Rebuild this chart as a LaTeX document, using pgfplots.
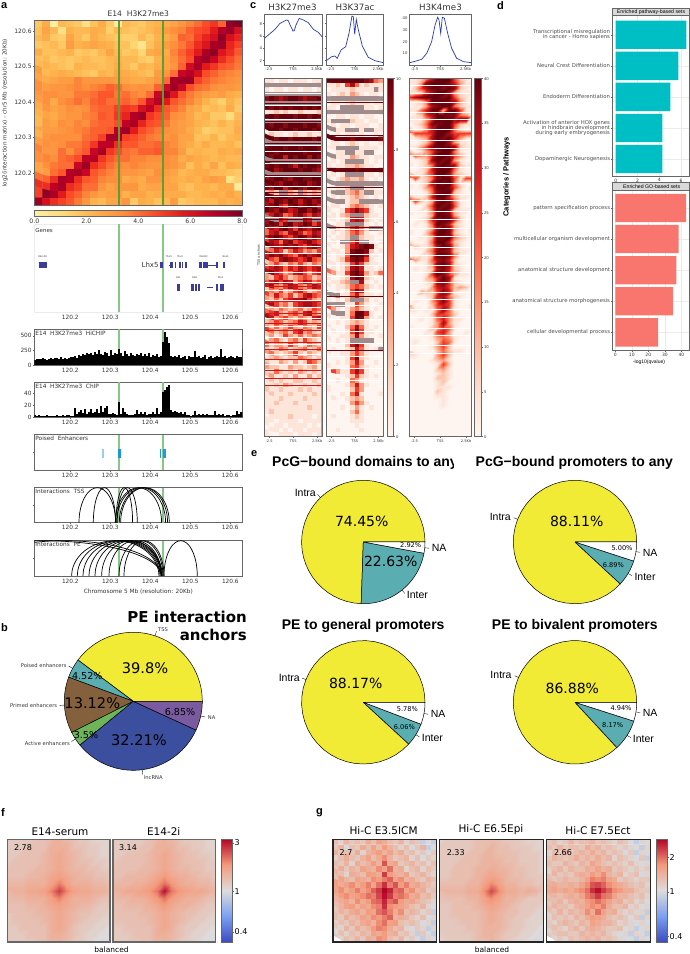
\documentclass[border=0pt]{standalone}
\usepackage{fontspec}
\usepackage{pgfplots}
\usepackage{pgfplotstable}
\pgfplotsset{compat=1.18}
\setmainfont{DejaVu Sans}
\newfontfamily\arial{Liberation Sans}
\definecolor{frame}{HTML}{666666}
\definecolor{txt}{HTML}{333333}
\definecolor{glight}{HTML}{86C986}
\definecolor{gdark}{HTML}{5F9E30}
\definecolor{genec}{HTML}{3C3C9A}
\definecolor{pyel}{HTML}{F2EB36}
\definecolor{pteal}{HTML}{5AADB0}
\definecolor{pbrown}{HTML}{85603C}
\definecolor{pgreen}{HTML}{6EB55A}
\definecolor{pblue}{HTML}{3C4E9E}
\definecolor{ppurple}{HTML}{7A5BA0}
\definecolor{bteal}{HTML}{00BFC4}
\definecolor{bred}{HTML}{F8766D}
\definecolor{lineblue}{HTML}{2B3BAF}
\definecolor{darkred}{HTML}{67000D}
\definecolor{midred}{HTML}{CB181D}
\newcommand{\fs}[1]{\fontsize{#1}{#1}\selectfont}

% numbers in a row, one table column c
\makeatletter
\newtoks\celltoks
\def\@addcell#1 {\ifx x#1\else\celltoks\expandafter{\the\celltoks#1\\}\expandafter\@addcell\fi}
\newcommand{\cells}[2]{\celltoks{c\\}\@addcell#2 x \edef\celltmp{\noexpand\pgfplotstableread[row sep=crcr]{\the\celltoks}\noexpand#1}\celltmp}
\makeatother

% placement in pixels of the reference, y from the top
\pgfplotsset{
  /pgf/number format/assume math mode=true,
  table/y index=0,
  box/.code n args={4}{%
    \pgfmathsetmacro\bxa{#1}\pgfmathsetmacro\bw{(#3)-(#1)}\pgfmathsetmacro\bh{(#4)-(#2)}\pgfmathsetmacro\byb{954-(#4)}%
    \edef\boxtmp{\noexpand\pgfplotsset{at={(\bxa pt,\byb pt)},anchor=south west,width=\bw pt,height=\bh pt}}\boxtmp},
  base/.style={scale only axis,enlargelimits=false,axis line style={draw=frame,line width=.7pt},
    tick style={draw=frame,line width=.4pt},tickwidth=1.5pt,tick align=outside,xtick pos=bottom,ytick pos=left,
    tick label style={text=txt,inner sep=1pt},scaled ticks=false},
  track/.style={base,xmin=120.11,xmax=120.63,xtick={120.2,120.3,120.4,120.5,120.6},
    xticklabels={120.2,120.3,120.4,120.5,120.6},tick label style={font=\fs{5.8}},unbounded coords=jump},
  hm/.style={base,axis on top,xmin=0,xmax=12,ymin=-80,ymax=0,xtick={1,6,11},xticklabels={-2.5,TSS,2.5Kb},ytick=\empty,
    tick label style={font=\fs{3.6}},colormap name=heatc,point meta min=0,point meta max=10},
  prof/.style={base,xmin=-2.5,xmax=2.5,xtick={-2.1,0,2.05},xticklabels={-2.5,TSS,2.5Kb},tick label style={font=\fs{3.8}},tickwidth=1pt},
  pile/.style={base,axis on top,xmin=0,xmax=1,ymin=0,ymax=1,ticks=none,axis line style={line width=1.4pt}},
  vbar/.style={base,axis on top,xmin=0,xmax=1,xtick=\empty,ytick pos=right,axis line style={draw=frame,line width=.6pt}},
  colormap={ylorrd}{rgb255(0cm)=(255,238,165);rgb255(1cm)=(254,217,118);rgb255(2cm)=(254,178,76);rgb255(3cm)=(253,141,60);rgb255(4cm)=(252,78,42);rgb255(5cm)=(227,26,28);rgb255(6cm)=(189,0,38);rgb255(7cm)=(128,0,38)},
  colormap={reds}{rgb255(0cm)=(255,245,240);rgb255(1cm)=(254,224,210);rgb255(2cm)=(252,187,161);rgb255(3cm)=(252,146,114);rgb255(4cm)=(251,106,74);rgb255(5cm)=(239,59,44);rgb255(6cm)=(203,24,29);rgb255(7cm)=(165,15,21);rgb255(8cm)=(103,0,13)},
  colormap={heatc}{rgb255(0cm)=(255,245,240);rgb255(1cm)=(254,229,217);rgb255(2cm)=(252,197,174);rgb255(3cm)=(252,156,126);rgb255(4cm)=(251,106,74);rgb255(5cm)=(239,59,44);rgb255(6cm)=(203,24,29);rgb255(7cm)=(165,15,21);rgb255(8cm)=(127,10,16);rgb255(9cm)=(103,0,13);rgb255(9.1cm)=(160,140,140);rgb255(10cm)=(160,140,140)},
  colormap={cw}{rgb255(0cm)=(59,76,192);rgb255(1cm)=(123,159,242);rgb255(2cm)=(221,220,220);rgb255(3cm)=(244,154,123);rgb255(4cm)=(180,4,38)},
}

\newcommand{\T}[5][]{\node[inner sep=0pt,text=txt,#1,font=\fs{#4}] at ({#2},{954-#3}) {#5};}
\newcommand{\greens}[2]{\addplot[glight,line width=2pt,forget plot] coordinates {(120.3225,#1)(120.3225,#2)};
  \addplot[glight,line width=2pt,forget plot] coordinates {(120.4317,#1)(120.4317,#2)};}
\newcommand{\vramp}[2]{\addplot[surf,shader=interp,mesh/cols=2,point meta=y] coordinates {(0,#1)(1,#1)(0,#2)(1,#2)};}
% thin full-width streaks of the TSS heatmaps
\newcommand{\streaks}[3]{\addplot[xcomb,#1,line width=#2] table[x expr=12,y=c] #3;}

% unit shapes: half ellipse for the loops, sector outline for the pies
\pgfplotstableread[row sep=crcr]{t h\\0 0\\.0076 .1736\\.0302 .342\\.067 .5\\.117 .643\\.1786 .766\\.25 .866\\.329 .94\\.413 .985\\.5 1\\.587 .985\\.671 .94\\.75 .866\\.8214 .766\\.883 .643\\.933 .5\\.9698 .342\\.9924 .1736\\1 0\\}\arcshape
\pgfplotstableread[row sep=crcr]{r t\\0 0\\1 0\\1 .025\\1 .05\\1 .075\\1 .1\\1 .125\\1 .15\\1 .175\\1 .2\\1 .225\\1 .25\\1 .275\\1 .3\\1 .325\\1 .35\\1 .375\\1 .4\\1 .425\\1 .45\\1 .475\\1 .5\\1 .525\\1 .55\\1 .575\\1 .6\\1 .625\\1 .65\\1 .675\\1 .7\\1 .725\\1 .75\\1 .775\\1 .8\\1 .825\\1 .85\\1 .875\\1 .9\\1 .925\\1 .95\\1 .975\\1 1\\0 1\\}\pieshape
\newcommand{\loopc}[2]{\addplot[black,line width=.7pt,smooth,forget plot] table[x expr={#1+(#2-#1)*\thisrow{t}},y=h] \arcshape;}
\newcommand{\slice}[3]{\addplot[fill=#3,draw=black,line width=.5pt,forget plot] table[x expr={\thisrow{r}*cos(3.6*(#1+(#2-#1)*\thisrow{t}))},y expr={\thisrow{r}*sin(3.6*(#1+(#2-#1)*\thisrow{t}))}] \pieshape;}
\newcommand{\lead}[1]{\draw[black,line width=.35pt] (axis cs:{cos(3.6*#1)},{sin(3.6*#1)}) -- (axis cs:{1.07*cos(3.6*#1)},{1.07*sin(3.6*#1)});}

\cells\tHiC{20 28 05 24 22 20 12 22 28 20 06 24 22 20 24 26 28 30 34 38 42 48 52 44 76 80
22 30 24 12 26 24 24 28 26 18 24 22 20 22 24 28 32 36 38 44 48 50 58 70 74 62
24 28 20 18 30 24 20 28 24 22 20 18 18 24 20 26 28 32 44 42 50 56 62 76 62 56
20 22 24 20 32 26 28 30 28 26 22 22 16 10 22 28 32 36 40 46 54 60 72 74 56 50
28 22 22 24 26 20 22 20 24 30 24 20 22 16 28 30 28 38 44 50 58 72 76 60 54 46
22 24 20 22 20 22 24 22 22 24 26 24 24 20 18 26 30 36 42 48 70 74 66 54 48 42
24 26 24 22 20 26 24 24 22 24 28 24 20 26 24 28 30 34 44 64 72 58 52 46 44 40
32 24 26 28 26 24 22 20 26 24 30 28 26 24 22 32 34 42 66 70 62 48 44 40 38 36
30 28 30 32 32 38 34 34 34 34 32 30 28 28 30 34 42 72 74 74 50 44 40 38 36 34
36 32 34 34 36 38 36 38 40 44 42 36 34 36 34 44 64 74 66 48 42 40 36 34 34 32
34 36 36 34 34 40 40 42 46 46 40 42 38 36 42 66 74 60 46 40 36 32 30 32 28 26
32 36 28 36 38 42 38 44 46 42 42 44 40 46 62 70 58 46 42 38 32 26 22 18 26 22
28 34 30 32 36 34 36 42 44 44 50 52 50 62 68 54 46 42 38 30 28 22 24 22 28 20
26 30 28 32 34 34 38 40 46 44 52 56 70 74 52 48 44 36 34 30 24 26 20 20 14 24
24 32 30 36 34 38 36 42 44 44 48 68 72 56 48 46 40 34 32 30 26 24 22 26 22 26
30 32 32 34 36 38 40 44 44 46 70 74 58 48 44 40 36 34 32 28 24 18 20 22 22 28
26 34 36 36 36 36 42 44 50 72 72 50 48 44 40 38 34 36 30 30 22 22 26 20 24 26
32 36 34 36 40 40 44 52 68 68 54 46 46 42 42 44 38 36 30 28 24 28 24 24 26 22
38 34 34 42 36 42 46 66 72 52 48 42 40 44 44 46 38 38 32 24 26 24 24 28 26 28
36 38 36 42 44 48 68 70 52 46 42 42 38 38 36 36 36 34 28 30 28 26 24 26 24 24
30 36 40 42 42 66 74 54 48 42 38 36 38 36 34 34 36 34 30 22 28 24 30 22 28 26
30 32 42 46 70 72 66 46 42 38 36 34 34 32 30 36 32 30 24 26 28 28 24 24 22 20
42 44 54 72 70 54 46 44 38 36 36 28 30 28 34 34 30 28 26 28 26 30 32 30 12 18
54 54 68 72 54 50 42 42 34 30 34 34 34 28 30 30 30 30 24 22 26 26 24 28 28 06
50 76 72 58 48 44 38 34 30 32 32 26 30 30 26 28 28 28 28 24 24 26 28 26 30 26
74 62 54 50 46 40 34 26 24 30 30 34 20 28 26 22 24 32 20 22 24 24 24 28 26 28}

\cells\tHichip{90 110 100 95 120 105 90 110 125 100
115 120 105 130 110 120 100 115 140 130
150 125 170 160 190 175 200 185 210 170
220 180 260 190 170 230 200 160 250 170
210 190 270 200 160 240 180 160 200 175
150 190 170 210 150 180 160 200 140 170
150 190 130 160 390 560 470 380 160 140
150 130 170 120 140 160 110 150 130 140
240 130 150 120 140 170 110 130 150 120
130 160 140 280 130 150 120 140 160 130
120 150 130 140 270}

\cells\tChip{3 2 3 2 2 2 3 2 2 2
2 3 2 2 3 2 3 3 2 2
16 6 8 12 7 13 6 9 13 7
8 14 7 18 8 16 19 6 5 7
5 4 26 6 16 9 6 4 3 3
5 12 6 8 5 9 4 5 6 8
6 15 5 9 42 46 50 53 12 9
10 8 7 9 6 8 3 4 2 3
11 3 6 4 5 3 5 3 3 4
10 4 6 3 5 2 3 3 2 3
4 11 5 9 8}

\cells\tCa{1 1 0 1 1 0 1 1 1 0 1 1
10 10 10 10 10 10 10 10 10 10 10 10
1 0 1 1 0 1 1 0 1 1 0 1
10 10 10 10 10 10 10 10 10 10 10 10
8 9 8 7 8 9 9 8 7 8 8 9
10 10 10 10 10 10 10 10 10 10 10 10
9 8 9 8 9 8 9 9 8 9 8 9
1 1 2 1 2 1 1 2 1 1 1 2
9 9 8 9 9 9 8 9 9 8 9 9
10 10 10 10 10 10 10 10 10 10 10 10
9 8 9 9 8 9 9 9 8 9 9 8
9 9 9 8 9 9 8 9 9 9 8 9
1 2 1 1 0 1 2 1 1 2 1 1
9 9 8 9 9 8 9 9 9 9 8 9
10 10 10 10 10 10 10 10 10 10 10 10
8 9 9 9 8 9 9 8 9 9 9 8
9 9 8 9 9 9 9 9 8 9 9 9
9 8 9 9 6 9 8 9 9 7 9 8
10 10 10 10 10 10 10 10 10 10 10 10
8 9 8 9 9 8 6 9 8 9 9 8
9 9 7 8 9 9 9 8 9 9 8 7
10 10 10 10 10 10 10 10 10 10 10 10
7 8 9 9 8 7 9 9 8 8 9 9
9 9 8 7 9 9 8 9 9 7 8 9
8 7 9 9 6 8 9 8 7 9 9 8
2 3 2 10 10 3 2 10 3 2 3 2
9 9 8 9 9 8 9 9 9 8 9 9
8 6 9 8 7 9 8 6 8 9 7 8
7 8 9 6 5 8 9 7 8 9 8 6
9 8 7 9 8 6 7 9 9 7 9 8
5 6 8 7 4 5 7 8 6 5 7 6
10 10 10 6 5 10 10 10 7 6 10 10
7 9 8 5 8 9 6 7 9 8 5 7
8 7 6 8 9 7 5 8 7 6 8 9
4 6 7 5 4 7 8 6 4 5 7 6
7 8 9 8 6 5 7 9 8 6 8 7
5 7 6 4 7 8 5 6 7 8 6 5
9 8 7 6 8 7 8 6 5 7 8 7
3 4 6 5 2 4 6 5 3 4 3 5
6 8 7 8 6 5 4 7 8 6 7 8
7 5 4 7 8 7 6 5 6 8 5 4
2 3 5 3 2 4 3 5 3 2 4 3
5 6 7 6 4 6 5 7 6 5 6 7
7 8 6 5 3 4 6 7 5 3 5 6
3 2 5 6 4 2 3 4 5 4 2 3
4 6 7 5 7 6 3 5 7 6 4 5
6 7 4 3 5 7 6 4 3 5 7 6
2 4 3 5 2 3 5 6 4 2 3 4
5 3 6 4 3 5 2 4 6 7 5 4
3 2 4 2 5 6 7 7 8 5 3 2
6 7 5 3 4 2 5 6 7 7 6 5
2 3 2 4 3 2 3 4 2 3 5 4
4 5 6 3 2 4 5 3 6 7 4 2
7 6 3 4 5 3 2 4 3 2 6 7
2 3 5 4 2 3 4 6 5 2 3 2
3 2 4 2 3 5 3 2 4 3 2 5
5 4 2 3 4 2 5 6 3 4 2 1
2 3 1 2 5 3 2 4 2 3 4 3
1 3 4 2 1 3 4 2 5 3 2 1
4 2 3 3 2 5 3 1 2 4 3 2
2 1 2 4 3 1 2 3 4 1 2 4
3 4 2 1 2 3 5 2 1 3 2 1
1 2 3 2 1 2 2 4 3 2 1 2
2 1 1 3 2 1 3 1 2 5 4 2
3 2 2 1 1 3 2 2 1 2 3 1
1 1 4 2 1 2 1 3 2 1 2 1
2 3 1 1 2 1 3 1 1 3 1 2
1 2 1 2 1 1 2 2 1 1 2 1
1 1 2 1 3 2 1 1 2 1 1 2
2 1 1 2 1 1 1 2 1 2 1 1
1 2 1 1 1 2 1 1 1 1 2 1
1 1 1 2 1 1 1 1 2 1 1 1
1 1 2 1 1 1 2 1 1 1 1 1
1 1 1 1 1 1 1 1 1 2 1 1
1 2 1 1 1 1 1 1 1 1 1 1
0 1 1 1 1 2 1 1 1 1 0 1
1 1 0 1 1 1 1 0 1 1 1 1
1 0 1 1 0 1 1 1 1 0 1 0
0 1 1 0 1 0 1 1 0 1 1 1
1 0 0 1 1 1 0 1 1 1 0 1}

\cells\tCb{9 9 9 9 9 9 9 9 8 7 4 3
1 1 2 1 5 7 4 1 2 1 1 1
0 1 1 1 1 2 1 1 1 1 10 1
1 0 1 2 1 3 2 1 0 1 1 0
10 10 10 10 10 10 10 10 10 10 10 10
0 1 1 0 1 2 1 1 1 0 1 1
1 1 0 10 10 10 10 10 1 1 0 1
10 10 10 10 10 10 10 10 10 10 10 10
0 0 1 1 0 1 1 0 1 1 0 0
1 10 10 10 10 2 1 1 0 1 1 0
0 1 0 1 1 0 1 1 1 0 0 1
10 10 1 1 10 10 10 1 10 10 1 1
0 0 1 0 1 1 0 1 0 0 1 0
9 9 9 9 9 8 9 9 9 9 9 8
0 1 1 0 1 2 1 0 1 0 0 1
1 1 10 10 10 10 10 1 1 1 1 0
0 0 1 1 10 10 1 1 10 10 0 0
10 10 1 1 1 3 2 1 1 0 1 1
0 1 0 1 10 10 10 10 1 0 1 0
1 0 1 1 2 2 3 2 1 1 0 0
9 9 8 9 9 9 8 9 9 9 9 9
0 1 0 1 10 10 10 10 1 1 0 1
1 0 1 2 3 2 2 3 1 0 1 0
10 10 10 10 10 10 10 10 10 10 10 10
0 0 1 1 2 10 10 10 1 1 0 0
1 10 10 10 2 3 4 2 10 10 1 1
0 1 0 1 1 2 3 2 1 0 1 0
10 10 10 10 1 2 2 10 10 10 10 10
0 1 1 0 1 3 4 3 2 1 0 1
1 0 0 1 5 6 8 6 5 1 0 0
0 1 0 2 3 10 10 10 2 1 1 0
1 1 0 1 2 6 7 6 2 1 0 1
0 0 1 1 10 10 10 10 1 0 1 0
10 10 2 1 3 5 6 4 2 10 10 10
0 1 0 1 2 4 5 3 1 0 0 1
1 0 1 1 2 10 10 2 1 1 0 0
0 1 0 10 10 5 7 10 10 1 0 1
1 0 0 1 3 6 7 8 9 8 1 0
0 1 1 0 3 8 9 9 8 2 0 1
1 0 1 1 4 9 9 9 7 1 1 0
0 0 1 2 5 8 9 8 5 1 0 0
1 1 0 1 2 5 7 5 2 1 1 0
0 1 0 1 3 7 8 6 1 1 0 1
4 3 1 1 5 8 9 7 3 1 2 4
1 0 0 1 2 7 9 8 2 1 0 0
0 1 1 2 3 10 10 7 1 0 1 0
1 0 1 1 2 4 5 4 2 1 0 1
0 0 1 0 1 5 8 6 1 0 0 0
10 10 10 1 1 4 6 3 1 1 0 1
1 0 1 0 2 10 10 10 2 0 1 0
10 10 10 10 1 1 5 3 1 0 0 1
5 3 1 0 1 3 4 2 1 0 1 0
0 10 10 10 1 4 9 9 6 1 0 0
1 0 0 1 1 5 9 8 3 1 0 1
0 0 1 0 1 2 3 2 1 0 0 0
1 0 0 0 2 4 7 4 1 0 1 0
0 1 0 0 1 5 8 5 1 1 0 0
0 0 0 1 1 3 7 3 1 0 0 1
1 0 1 0 1 10 10 10 10 10 0 0
0 0 0 0 2 6 8 5 1 0 0 0
0 1 0 0 1 2 6 4 1 0 1 10
1 0 0 1 1 3 5 3 1 0 0 0
0 0 0 0 1 5 8 2 1 0 0 0
0 0 1 0 1 3 6 3 0 0 1 0
1 0 0 0 0 4 5 2 1 0 0 0
0 5 3 1 1 5 7 5 1 0 0 0
0 0 0 0 1 2 5 2 1 0 1 0
0 0 1 0 0 4 3 1 0 0 0 0
0 0 0 0 1 3 6 3 1 0 0 0
1 0 0 0 0 2 5 3 0 0 0 0
0 0 0 1 0 4 6 1 0 0 0 1
0 1 0 0 1 2 3 2 0 0 0 0
0 0 0 0 0 3 5 3 1 0 0 0
0 0 0 1 0 1 3 1 0 1 0 0
0 0 0 0 0 2 4 1 0 0 0 0
0 1 0 0 0 1 2 1 0 0 0 0
0 0 0 0 0 1 1 1 0 0 0 0
0 0 0 0 0 0 1 0 0 0 0 0
0 0 1 0 0 0 0 1 0 0 0 0
0 0 0 0 0 0 0 0 0 0 0 0}

\cells\tCc{1 1 2 4 7 9 9 9 5 2 1 0
1 1 3 8 9 9 9 8 6 3 1 1
0 2 5 7 9 9 8 9 8 2 1 0
1 1 2 5 7 9 9 7 3 1 1 1
5 7 8 9 9 9 8 9 5 2 1 0
1 1 2 4 9 9 9 8 7 3 1 0
0 1 1 3 7 8 9 9 4 2 1 1
1 1 4 6 9 9 2 9 9 5 1 0
0 1 2 5 7 9 9 8 8 4 3 1
1 1 1 3 6 9 9 9 7 8 8 0
0 1 2 4 8 8 9 9 5 2 1 1
0 0 1 3 6 9 9 9 4 1 0 0
5 5 5 5 6 9 9 7 5 5 5 5
1 1 2 3 7 9 8 9 6 3 1 0
0 0 1 2 5 9 9 7 3 1 1 0
1 1 3 5 8 9 9 9 8 2 1 1
0 0 1 3 5 8 9 9 4 1 0 0
5 4 3 3 6 9 9 8 5 3 1 0
0 0 1 2 7 9 8 9 3 1 0 0
1 0 1 2 4 8 9 8 7 2 1 1
0 0 1 2 6 9 9 9 4 1 0 0
0 1 1 3 5 9 9 7 3 2 1 0
5 5 1 2 4 8 9 9 5 1 5 5
0 0 1 2 7 9 8 9 4 1 0 0
1 0 1 3 5 9 9 8 5 2 0 1
0 0 0 1 4 8 9 9 2 1 0 0
0 1 1 2 6 9 9 6 3 1 1 0
6 5 2 1 3 8 9 8 4 1 0 0
0 0 0 2 5 9 8 9 5 1 0 0
0 0 1 1 4 8 9 7 2 1 1 0
1 0 0 1 3 9 9 8 3 1 0 0
0 0 1 2 6 8 9 9 6 2 0 0
0 1 0 1 4 9 8 6 2 1 0 0
0 0 0 1 3 7 9 8 3 1 0 1
1 0 0 2 5 9 9 8 2 1 0 0
0 0 1 1 3 8 8 9 4 2 1 0
0 0 0 1 4 9 9 6 2 1 0 0
3 2 1 1 3 7 9 8 3 1 0 0
0 0 0 2 4 8 8 7 2 1 1 0
0 0 1 1 3 9 9 8 4 1 0 0
5 3 1 1 4 7 8 6 2 0 0 0
0 0 0 1 3 8 9 7 2 1 0 0
0 1 0 1 2 7 8 6 2 1 0 0
0 0 0 1 5 9 8 5 3 1 1 0
0 0 0 2 3 6 9 7 1 0 0 0
1 0 0 1 2 7 8 5 2 1 0 0
0 0 0 0 3 6 7 5 2 3 2 0
0 0 3 2 2 5 8 6 1 0 0 0
0 0 0 1 2 6 7 4 2 1 0 0
0 1 0 0 3 5 8 5 1 0 0 0
0 0 0 0 2 5 6 5 1 0 0 1
3 1 0 1 1 4 7 4 1 0 0 0
0 0 0 0 2 5 5 4 2 0 0 0
0 0 1 0 1 4 6 3 1 1 0 0
0 0 0 0 1 3 7 3 1 0 0 0
1 0 0 0 2 3 5 4 1 0 0 0
0 0 0 1 1 5 6 3 0 0 1 0
0 0 0 0 1 3 4 3 1 0 0 0
0 1 0 0 0 2 5 4 1 0 0 0
0 0 0 0 1 3 5 2 0 0 0 0
0 0 0 0 0 2 4 2 1 1 0 0
2 1 0 0 0 3 5 2 0 0 0 0
0 0 0 0 1 2 3 1 0 0 0 0
0 0 0 0 0 1 5 2 0 0 0 0
0 0 0 0 0 2 3 1 0 0 0 0
0 0 0 0 0 1 2 1 0 0 0 0
0 0 0 0 0 2 2 1 0 0 0 0
0 0 0 0 0 1 2 0 0 0 0 0
0 0 0 0 0 1 1 1 0 0 0 0
0 0 0 0 0 2 1 0 0 0 0 0
0 0 0 0 0 1 1 0 0 0 0 0
0 0 0 0 0 0 1 0 0 0 0 0
0 0 0 0 0 0 1 0 0 0 0 0
0 0 0 0 0 0 0 0 0 0 0 0
0 0 0 0 0 0 0 0 0 0 0 0
0 0 0 0 0 0 0 0 0 0 0 0
0 0 0 0 0 0 0 0 0 0 0 0
0 0 0 0 0 0 0 0 0 0 0 0
0 0 0 0 0 0 0 0 0 0 0 0
0 0 0 0 0 0 0 0 0 0 0 0}

\cells\sAw{-3.2 -5.9 -9.1 -11.7 -14.9 -16.2 -18.9 -21.9 -24.1 -26.3 -28.6 -30.9 -33.2 -35.7 -37.4 -39.1 -41.8 -43.3 -45.6 -47.2 -49.5 -51.1 -53.6 -55.4 -57.8 -59.3 -61.6 -63.9}
\cells\sAd{-5.5 -9.5 -14.5 -18.5 -21.5 -31.5 -25.5}
\cells\sAr{-46.3 -49.8 -52.4 -54.7 -56.2 -58.9 -60.4 -62.8 -65.1 -66.9 -68.4}
\cells\sBw{-31.2 -33.6 -36.4 -39.3 -41.7 -44.2 -47.5 -50.6 -53.8 -56.4 -59.2 -62.1 -64.7 -67.3}
\cells\sBd{-5.2 -12.6 -20.4 -24.3 -33.1 -48.7 -60.6}
\cells\sCw{-1.4 -3.3 -5.2 -7.6 -9.1 -11.3 -13.8 -15.6 -17.2 -19.7 -21.5 -23.4 -25.8 -27.1 -29.6 -31.3 -33.5 -35.2 -37.7 -39.4 -41.6 -43.2 -45.5 -47.8 -49.3 -51.6 -53.2 -55.7 -57.4 -59.6 -61.3}

\cells\tFa{12 12 12 12 13 13 14 15 14 13 12 12 11 11 11
12 12 12 13 13 13 15 15 15 13 13 12 12 11 11
12 12 13 13 13 14 15 16 15 14 13 12 12 11 11
12 13 13 13 13 14 15 16 15 14 13 13 12 12 11
13 13 13 13 14 14 15 16 15 14 14 13 13 12 12
13 13 13 14 14 15 16 17 16 15 14 14 13 13 12
14 14 14 15 15 15 17 20 17 15 15 15 14 14 13
15 15 15 16 16 17 20 26 20 17 16 16 15 15 14
14 14 14 15 15 15 17 20 17 15 15 15 14 13 13
13 13 13 14 14 15 16 17 16 15 14 14 13 12 12
13 13 13 13 14 14 15 16 15 14 13 13 12 12 11
12 13 13 13 13 14 15 16 15 14 13 12 12 11 11
12 12 13 13 13 13 15 16 15 13 12 12 11 11 10
12 12 12 13 13 13 15 15 14 13 12 11 11 10 10
12 12 12 12 13 13 14 15 14 12 12 11 10 10 10}

\cells\tFb{12 12 12 12 12 13 14 15 14 13 12 12 12 11 11
12 12 12 12 13 13 15 15 15 13 13 12 12 11 11
12 12 13 13 13 14 15 16 15 14 13 13 12 12 11
12 13 13 13 13 14 15 16 15 14 13 13 13 12 12
13 13 13 13 14 14 15 16 15 14 14 13 13 12 12
13 13 14 14 14 15 16 18 16 15 15 14 13 13 12
14 14 14 15 15 16 18 21 18 16 15 15 14 14 13
15 15 16 16 17 18 21 31 21 18 17 16 16 15 14
14 14 14 15 15 16 18 21 18 16 15 15 14 13 13
13 13 14 14 14 15 16 18 16 15 15 14 13 12 12
13 13 13 13 14 14 15 16 15 14 13 13 12 12 11
13 13 13 13 13 14 15 16 15 14 13 12 12 11 11
12 12 13 13 13 13 15 16 15 13 12 12 11 11 10
12 12 12 13 13 13 15 15 14 13 12 11 11 10 10
12 12 12 12 13 13 14 15 14 12 12 11 10 10 10}

\cells\tGb{11 12 12 12 12 13 13 13 13 12 12 12 11 11 11
12 12 12 12 12 13 13 14 13 13 12 12 12 11 11
12 12 12 12 13 13 14 14 13 13 13 12 12 12 11
12 12 12 13 13 13 14 14 14 13 13 12 12 12 11
12 12 13 13 13 14 14 15 14 14 13 13 12 12 11
12 12 13 13 13 14 15 16 15 14 13 13 12 12 12
13 13 13 13 14 14 16 18 16 14 14 13 13 12 12
14 14 14 14 15 15 18 23 18 15 15 14 15 14 12
13 13 13 13 14 14 16 18 16 14 14 13 12 12 12
12 12 13 13 13 14 15 16 15 14 13 12 12 12 11
12 12 13 13 13 13 14 15 14 13 13 12 12 11 11
12 12 12 13 13 13 14 15 14 13 12 12 11 11 11
12 12 12 12 13 13 14 14 14 13 12 12 11 11 10
12 12 12 12 12 13 14 14 13 12 12 11 11 10 10
11 12 12 12 12 13 13 14 13 12 11 11 10 10 10}

\cells\tGa{13 11 14 12 13 12 15 13 16 15 13 12 14 11 13 12 9 10 9
12 14 10 13 12 15 13 16 13 17 14 13 11 13 10 12 14 9 10
14 12 13 12 15 11 14 15 17 14 16 13 15 12 13 11 12 10 12
11 13 15 13 12 14 16 13 15 18 14 12 13 14 11 13 10 12 11
13 12 14 11 15 13 14 17 14 22 15 16 12 13 14 12 13 11 13
12 15 12 14 13 16 15 14 18 16 20 14 15 11 13 14 11 13 12
14 13 11 15 14 13 17 16 15 24 17 15 14 16 12 13 14 12 11
13 16 14 13 16 15 14 18 17 19 21 16 18 14 15 13 12 14 13
17 15 16 18 15 17 19 16 20 25 19 22 17 19 15 16 14 13 12
16 18 15 17 19 16 18 21 24 29 26 20 21 16 18 14 15 12 13
15 17 18 16 17 18 20 19 23 28 24 19 20 18 15 16 13 14 12
14 15 16 14 18 15 17 20 21 26 20 22 17 15 16 14 13 12 11
13 14 16 17 14 16 15 18 19 25 18 17 16 15 13 12 14 11 10
12 14 13 15 16 14 17 16 20 22 19 15 18 13 14 13 11 12 9
13 12 15 13 14 16 15 18 17 19 21 14 15 14 12 11 13 10 11
11 13 12 14 13 15 16 14 18 20 16 17 13 12 13 12 10 11 9
12 11 14 12 15 13 14 17 19 18 15 13 14 11 10 12 11 9 11
10 13 11 13 12 14 13 16 15 17 14 15 12 13 11 9 12 10 9
12 11 13 12 14 12 15 14 18 17 13 12 14 11 12 10 9 11 10}

\cells\tGc{12 13 11 12 14 12 13 13 14 12 13 12 11 13 12 10 9 11 10
13 12 14 12 13 13 12 15 13 14 12 13 12 11 12 11 10 9 11
11 13 12 14 12 13 14 13 15 13 14 12 13 12 10 12 9 11 10
12 14 13 12 13 15 13 14 13 15 13 14 11 13 12 11 10 12 9
13 12 12 14 13 12 14 13 16 14 13 12 13 12 11 13 11 10 11
12 13 14 12 14 13 13 15 14 16 14 15 12 13 12 11 12 11 12
11 14 12 13 12 14 15 14 17 15 18 14 13 14 11 12 13 10 11
13 12 13 14 13 13 14 16 19 18 19 16 15 12 13 12 11 12 12
14 15 14 14 15 14 16 18 22 23 21 18 16 15 14 13 12 13 11
15 16 15 16 15 17 18 20 25 28 24 21 18 17 15 15 13 12 12
14 14 13 14 15 14 16 19 21 24 20 19 16 14 14 13 12 13 11
13 13 14 12 14 15 14 17 18 20 18 16 14 15 12 13 11 12 10
12 14 13 13 12 14 15 16 18 17 19 15 13 13 14 11 12 10 11
13 12 14 12 14 13 14 18 15 20 16 14 15 12 11 12 11 11 9
11 13 12 13 12 14 13 15 17 16 15 13 12 13 12 10 12 9 11
12 11 13 14 13 12 14 13 16 15 14 14 13 11 12 11 10 11 10
12 13 12 11 13 14 12 14 15 14 13 12 12 13 10 11 9 10 11
11 12 13 13 12 12 14 13 14 13 14 12 11 10 11 9 11 10 9
12 11 12 11 13 12 13 14 13 14 12 13 12 11 10 10 9 11 10}

\begin{document}
\begin{tikzpicture}[x=1pt,y=1pt]
\path[use as bounding box] (0,0) rectangle (690,954);

% panel letters
\T[anchor=west,text=black]{1}{5.5}{11}{\arial\bfseries a}
\T[anchor=west,text=black]{1}{627.5}{11}{\arial\bfseries b}
\T[anchor=west,text=black]{250}{5.5}{11}{\arial\bfseries c}
\T[anchor=west,text=black]{497}{5.5}{11}{\arial\bfseries d}
\T[anchor=west,text=black]{251}{454}{11}{\arial\bfseries e}
\T[anchor=west,text=black]{1}{812.5}{11}{\arial\bfseries f}
\T[anchor=west,text=black]{316}{813}{11}{\arial\bfseries g}

% --- a: contact map and tracks
\begin{axis}[base,axis on top,box={34.3}{20.3}{242.3}{205},xmin=120.11,xmax=120.63,ymin=120.11,ymax=120.63,
  xtick={120.2,120.3,120.4,120.5,120.6},xticklabels={},ytick={120.2,120.3,120.4,120.5,120.6},
  yticklabels={120.2,120.3,120.4,120.5,120.6},tick label style={font=\fs{6}},
  colormap name=ylorrd,point meta min=0,point meta max=8]
\addplot[matrix plot*,mesh/cols=26,point meta={-.5+1.07*\thisrow{c}/10}] table[x expr={120.12+0.02*mod(\coordindex,26)},y expr={120.62-0.02*floor(\coordindex/26)}] \tHiC;
\addplot[gdark,line width=1.8pt] coordinates {(120.3225,120.11)(120.3225,120.63)};
\addplot[gdark,line width=1.8pt] coordinates {(120.4317,120.11)(120.4317,120.63)};
\end{axis}
\T{138.3}{13.3}{7.6}{E14\ \ H3K27me3}
\T[rotate=90]{5}{113}{5.6}{log2(interaction matrix) - chr5 Mb (resolution: 20Kb)}
\begin{axis}[base,axis on top,box={34.3}{210}{242.3}{216},xmin=0,xmax=8,ymin=0,ymax=1,ytick=\empty,xtick={0,2,4,6,8},xticklabels={0.0,2.0,4.0,6.0,8.0},
  tick label style={font=\fs{6.2}},axis line style={line width=.4pt},colormap name=ylorrd,point meta min=0,point meta max=8]
\addplot[surf,shader=interp,mesh/cols=2,point meta=x] coordinates {(0,0)(0,1)(8,0)(8,1)};
\end{axis}

\begin{axis}[track,box={34.3}{224}{242.3}{312},ymin=224,ymax=312,y dir=reverse,ytick=\empty,axis line style={draw=black!8,line width=.4pt}]
\greens{224}{312}
\addplot[frame,line width=.8pt] coordinates {(120.11,312)(120.63,312)};
\addplot[genec,line width=.5pt] coordinates {(120.4458,265)(120.4558,265)(120.4558,nan)(120.5358,265)(120.5642,265)(120.5642,nan)(120.5408,287.3)(120.5558,287.3)};
\addplot[genec,line width=6.5pt] coordinates {(120.1208,265)(120.1408,265)(120.1408,nan)(120.4233,265)(120.4317,265)(120.4317,nan)(120.4483,265)(120.4567,265)(120.4567,nan)(120.4625,265)(120.4650,265)(120.4650,nan)(120.4717,265)(120.4767,265)(120.4767,nan)(120.4800,265)(120.4825,265)(120.4825,nan)(120.4867,265)(120.4908,265)(120.4908,nan)(120.5208,265)(120.5300,265)(120.5300,nan)(120.5325,265)(120.5442,265)(120.5442,nan)(120.5642,265)(120.5692,265)(120.5692,nan)(120.5808,265)(120.5875,265)};
\addplot[genec,line width=6.5pt] coordinates {(120.4667,287.3)(120.4742,287.3)(120.4742,nan)(120.5017,287.3)(120.5100,287.3)(120.5100,nan)(120.5117,287.3)(120.5167,287.3)(120.5167,nan)(120.5183,287.3)(120.5250,287.3)(120.5250,nan)(120.5642,287.3)(120.5683,287.3)(120.5683,nan)(120.5742,287.3)(120.5842,287.3)};
\node[anchor=north west,inner sep=.5pt,font=\fs{5.5},text=txt] at (rel axis cs:0.002,0.96) {Genes};
\node[anchor=east,inner sep=0pt,font=\fs{7},text=txt] at (axis cs:120.4212,265) {Lhx5};
\foreach \mx/\my/\nm in {120.1308/256.7/Rbm19,120.4467/256.7/Tbx5,120.4742/256.7/Tbx3,120.5333/256.7/Med13,120.5883/256.7/Nos1,120.4700/277.3/Sds,120.5108/277.3/Sdsl,120.5758/277.3/Dtx1}{
  \edef\gtmp{\noexpand\node[inner sep=0pt,font=\noexpand\fs{2.4},text=txt] at (axis cs:\mx,\my) {\nm};}\gtmp}
\end{axis}

\begin{axis}[track,box={34.3}{329.3}{242.3}{365},ymin=0,ymax=610,ytick={0,250,500},yticklabels={0,250,500}]
\greens{0}{610}
\addplot[ycomb,black,line width=2pt] table[x expr={120.1125+0.005*\coordindex},y=c] \tHichip;
\node[anchor=north west,inner sep=.5pt,font=\fs{5.8},text=txt] at (rel axis cs:0.002,0.98) {E14\ \ H3K27me3\ \ HiCHIP};
\end{axis}

\begin{axis}[track,box={34.3}{382.3}{242.3}{417.3},ymin=0,ymax=58,ytick={0,20,40},yticklabels={0,20,40}]
\greens{0}{58}
\addplot[ycomb,black,line width=2pt] table[x expr={120.1125+0.005*\coordindex},y=c] \tChip;
\node[anchor=north west,inner sep=.5pt,font=\fs{5.8},text=txt] at (rel axis cs:0.002,0.98) {E14\ \ H3K27me3\ \ ChIP};
\end{axis}

\begin{axis}[track,box={34.3}{434.7}{242.3}{470.3},ymin=0,ymax=1,ytick={.5},yticklabels={}]
\greens{0}{1}
\addplot[color={rgb,255:red,150;green,205;blue,240},line width=1.4pt] coordinates {(120.2817,.345)(120.2817,.6)};
\addplot[color={rgb,255:red,30;green,150;blue,210},line width=3pt] coordinates {(120.3242,.345)(120.3242,.6)};
\addplot[color={rgb,255:red,33;green,150;blue,243},line width=1.4pt] coordinates {(120.425,.345)(120.425,.6)};
\addplot[color={rgb,255:red,33;green,150;blue,243},line width=2.4pt] coordinates {(120.435,.345)(120.435,.6)};
\node[anchor=north west,inner sep=.5pt,font=\fs{5.8},text=txt] at (rel axis cs:0.002,0.98) {Poised\ \ Enhancers};
\end{axis}

\begin{axis}[track,box={34.3}{487.7}{242.3}{522.7},ymin=0,ymax=1,ytick={.5},yticklabels={}]
\greens{0}{1}
\loopc{120.2217}{120.3133}\loopc{120.2575}{120.3133}\loopc{120.3142}{120.3558}\loopc{120.3175}{120.3675}
\loopc{120.3125}{120.4283}\loopc{120.3158}{120.4383}\loopc{120.3225}{120.4433}\loopc{120.3258}{120.4475}
\node[anchor=north west,inner sep=.5pt,font=\fs{5.8},text=txt] at (rel axis cs:0.002,0.98) {Interactions\ \ TSS};
\end{axis}

\begin{axis}[track,box={34.3}{540.7}{242.3}{576},ymin=0,ymax=1,ytick={.5},yticklabels={}]
\greens{0}{1}
\loopc{119.83}{120.4283}\loopc{119.94}{120.4283}
\loopc{120.2033}{120.4217}\loopc{120.2175}{120.4242}\loopc{120.2317}{120.4267}\loopc{120.2467}{120.4283}
\loopc{120.2617}{120.4300}\loopc{120.2783}{120.4267}\loopc{120.2967}{120.4283}\loopc{120.3217}{120.4317}\loopc{120.3342}{120.4342}
\loopc{120.4342}{120.5175}
\node[anchor=north west,inner sep=.5pt,font=\fs{5.8},text=txt] at (rel axis cs:0.002,0.98) {Interactions\ \ PE};
\end{axis}
\T{138.3}{591.7}{5.8}{Chromosome 5 Mb (resolution: 20Kb)}

% --- b: pie
\begin{axis}[hide axis,scale only axis,box={64.3}{632.3}{202.3}{770.3},xmin=-1,xmax=1,ymin=-1,ymax=1,clip=false]
\slice{0}{39.8}{pyel}\slice{39.8}{44.32}{pteal}\slice{44.32}{57.44}{pbrown}\slice{57.44}{60.94}{pgreen}\slice{60.94}{93.15}{pblue}\slice{93.15}{100}{ppurple}
\lead{19.9}\lead{42.06}\lead{50.88}\lead{59.19}\lead{77.05}\lead{96.58}
\end{axis}
\T[anchor=east,align=right,text=black]{247}{616.7}{15}{\bfseries PE interaction}
\T[anchor=east,align=right,text=black]{247}{635}{15}{\bfseries anchors}
\T{163}{630}{5.2}{TSS}
\T[anchor=east]{66.7}{665.7}{5.2}{Poised enhancers}
\T[anchor=east]{57.3}{706}{5.2}{Primed enhancers}
\T[anchor=east]{70}{743.3}{5.2}{Active enhancers}
\T{153.3}{777.3}{5.2}{lncRNA}
\T{211.7}{717.7}{5.2}{NA}
\T[text=black]{145}{668.3}{14.6}{39.8\%}
\T[text=black]{139}{740}{14.6}{32.21\%}
\T[text=black]{92.3}{702.7}{14.6}{13.12\%}
\T[text=black]{87.3}{675.7}{9.6}{4.52\%}
\T[text=black]{86}{735}{9.6}{3.5\%}
\T[text=black]{180}{712.3}{9.6}{6.85\%}

% --- c: profiles
\begin{axis}[prof,box={264.3}{14}{322}{65.7},ymin=1.19,ymax=9.57,ytick={2,4,6,8},yticklabels={2,4,6,8}]
\addplot[lineblue,line width=.7pt] coordinates {(-2.5,5.62)(-2.15,6.16)(-1.58,7.08)(-1.14,8.05)(-.56,8.6)(-.42,8.49)(-.27,7.8)(-.01,6.8)(.1,6.86)(.25,7.8)(.53,8.86)(.88,8.6)(1.32,8.16)(1.75,7.08)(2.18,6.6)(2.5,5.9)};
\end{axis}
\begin{axis}[prof,box={326.3}{14}{383.3}{65.7},ymin=1.19,ymax=9.57,ytick={2,4,6,8},yticklabels={}]
\addplot[lineblue,line width=.7pt] coordinates {(-2.5,2)(-2.03,2.65)(-1.74,2.76)(-1.54,2.38)(-1.21,3.73)(-.8,4.27)(-.51,6.43)(-.25,9.24)(-.13,9.14)(-.01,6.27)(.13,8.7)(.31,7)(.66,4.38)(1.18,2.54)(1.77,2)(2.5,1.68)};
\end{axis}
\begin{axis}[prof,box={409.7}{14.3}{471}{65.7},ymin=-.6,ymax=43.4,ytick={10,20,30,40},yticklabels={10,20,30,40}]
\addplot[lineblue,line width=.7pt] coordinates {(-2.5,2)(-2.07,3.1)(-1.52,4.9)(-1.11,10)(-.71,20)(-.43,34.3)(-.22,40.9)(-.11,38.6)(.03,27)(.16,40.9)(.33,40)(.6,27)(.92,14.3)(1.33,5.7)(1.88,2.9)(2.5,2)};
\end{axis}
\T{292.5}{7.5}{8.7}{H3K27me3}
\T{355}{7.5}{8.7}{H3K37ac}
\T{440.5}{7.5}{8.7}{H3K4me3}

% --- c: heatmaps
\begin{axis}[hm,box={264.3}{78.7}{322}{436.7}]
\addplot[matrix plot*,mesh/cols=12,point meta=\thisrow{c}] table[x expr={mod(\coordindex,12)+.5},y expr={-floor(\coordindex/12)-.5}] \tCa;
\streaks{darkred}{.8pt}{\sAd}
\streaks{white}{.6pt}{\sAw}
\streaks{midred}{.5pt}{\sAr}
\addplot[black!35,line width=1.4pt] coordinates {(12,0)(12,-80)};
\end{axis}
\begin{axis}[hm,box={326.3}{78.7}{383.3}{436.7}]
\addplot[matrix plot*,mesh/cols=12,point meta=\thisrow{c}] table[x expr={mod(\coordindex,12)+.5},y expr={-floor(\coordindex/12)-.5}] \tCb;
\streaks{darkred}{.4pt}{\sBd}
\streaks{white}{.6pt}{\sBw}
\end{axis}
\begin{axis}[hm,box={409.3}{78.7}{471.3}{436.7}]
\addplot[surf,shader=interp,mesh/cols=12,point meta=\thisrow{c}] table[x expr={mod(\coordindex,12)/11*12},y expr={-floor(\coordindex/12)/79*80}] \tCc;
\streaks{white}{.5pt}{\sCw}
\end{axis}
\T[rotate=90]{258.5}{255}{3.4}{TSS anchors}
\begin{axis}[vbar,box={387.3}{78.7}{393.3}{436.7},ymin=0,ymax=10,ytick={0,2,4,6,8,10},yticklabels={0,2,4,6,8,10},tick label style={font=\fs{3.8}},
  colormap name=reds,point meta min=0,point meta max=10]
\vramp{0}{10}
\end{axis}
\begin{axis}[vbar,box={474.7}{78.7}{481.3}{436.7},ymin=0,ymax=40,ytick={0,5,10,15,20,25,30,35,40},yticklabels={0,5,10,15,20,25,30,35,40},tick label style={font=\fs{3.8}},
  colormap name=reds,point meta min=0,point meta max=40]
\vramp{0}{40}
\end{axis}

% --- d: enrichment bars
\begin{axis}[base,box={612.7}{15.3}{689.3}{176},xmin=-.275,xmax=6.75,ymin=.37,ymax=5.55,y dir=reverse,
  xtick={0,2,4,6},xticklabels={0,2,4,6},ytick={1,2,3,4,5},grid=major,grid style={draw=black!8,line width=.3pt},
  yticklabels={{Transcriptional misregulation\\in cancer - Homo sapiens},{Neural Crest Differentiation},{Endoderm Differentiation},{Activation of anterior HOX genes\\in hindbrain development\\during early embryogenesis},{Dopaminergic Neurogenesis}},
  x tick label style={font=\fs{4.5}},y tick label style={font=\fs{5.3},align=right,text=black!70}]
\addplot[xbar,bar width=28.3pt,fill=bteal,draw=none] coordinates {(6.48,1)(5.75,2)(5.02,3)(4.28,4)(4.28,5)};
\end{axis}
\begin{axis}[base,box={612.7}{190.3}{689.3}{350.7},xmin=-1.6,xmax=44.8,ymin=.43,ymax=5.59,y dir=reverse,
  xtick={0,10,20,30,40},xticklabels={0,10,20,30,40},ytick={1,2,3,4,5},grid=major,grid style={draw=black!8,line width=.3pt},
  yticklabels={pattern specification process,multicellular organism development,anatomical structure development,anatomical structure morphogenesis,cellular developmental process},
  x tick label style={font=\fs{4.5}},y tick label style={font=\fs{5.3},align=right,text=black!70}]
\addplot[xbar,bar width=28.3pt,fill=bred,draw=none] coordinates {(42.8,1)(38.4,2)(37,3)(35,4)(25.9,5)};
\end{axis}
\draw[frame,fill=black!15,line width=.7pt] (612.7,{954-8}) rectangle (689.3,{954-15.3});
\draw[frame,fill=black!15,line width=.7pt] (612.7,{954-182.3}) rectangle (689.3,{954-190.3});
\T[text=black]{651}{11.7}{5.2}{\arial Enriched pathway-based sets}
\T[text=black]{651.7}{186.3}{5.2}{\arial Enriched GO-based sets}
\T[text=black]{649}{362}{5}{\arial -log10(qvalue)}
\T[rotate=90,text=black]{506.7}{176.7}{7.5}{\arial\bfseries Categories / Pathways}

% --- e: pies
\begin{axis}[hide axis,scale only axis,box={301.6}{480.3}{425}{603.7},xmin=-1,xmax=1,ymin=-1,ymax=1,clip=false]
\slice{0}{74.45}{pyel}\slice{74.45}{97.08}{pteal}\slice{97.08}{100}{white}
\lead{37.2}\lead{85.8}\lead{98.5}
\end{axis}
\begin{axis}[hide axis,scale only axis,box={513.3}{480.3}{636.7}{603.7},xmin=-1,xmax=1,ymin=-1,ymax=1,clip=false]
\slice{0}{88.11}{pyel}\slice{88.11}{95}{pteal}\slice{95}{100}{white}
\lead{44}\lead{91.5}\lead{97.5}
\end{axis}
\begin{axis}[hide axis,scale only axis,box={301.6}{640.6}{425}{764},xmin=-1,xmax=1,ymin=-1,ymax=1,clip=false]
\slice{0}{88.17}{pyel}\slice{88.17}{94.22}{pteal}\slice{94.22}{100}{white}
\lead{44}\lead{91.2}\lead{97.1}
\end{axis}
\begin{axis}[hide axis,scale only axis,box={513.3}{640.6}{636.7}{764},xmin=-1,xmax=1,ymin=-1,ymax=1,clip=false]
\slice{0}{86.88}{pyel}\slice{86.88}{95.06}{pteal}\slice{95.06}{100}{white}
\lead{43.4}\lead{91}\lead{97.5}
\end{axis}
\begin{scope}
\clip (265,0) rectangle (453.3,954);
\T[anchor=west,text=black]{272}{463.3}{14}{\arial\bfseries PcG−bound domains to any}
\end{scope}
\T[text=black]{574.3}{463.3}{14}{\arial\bfseries PcG−bound promoters to any}
\T[anchor=east,text=black]{444.7}{625.7}{14}{\arial\bfseries PE to general promoters}
\T[text=black]{574.8}{625.7}{14}{\arial\bfseries PE to bivalent promoters}
\T[anchor=east,text=black]{316}{493.3}{10.5}{\arial Intra}
\T[anchor=west,text=black]{431.7}{548.3}{10.5}{\arial NA}
\T[anchor=west,text=black]{406.7}{595}{10.5}{\arial Inter}
\T[anchor=east,text=black]{511}{517.3}{10.5}{\arial Intra}
\T[anchor=west,text=black]{642.7}{552.7}{10.5}{\arial NA}
\T[anchor=west,text=black]{634.3}{576.7}{10.5}{\arial Inter}
\T[anchor=east,text=black]{300}{678.3}{10.5}{\arial Intra}
\T[anchor=west,text=black]{430.7}{714.3}{10.5}{\arial NA}
\T[anchor=west,text=black]{421.7}{738.3}{10.5}{\arial Inter}
\T[anchor=east,text=black]{511.7}{675}{10.5}{\arial Intra}
\T[anchor=west,text=black]{642.7}{712.7}{10.5}{\arial NA}
\T[anchor=west,text=black]{632.7}{739}{10.5}{\arial Inter}
\T[text=black]{361.7}{521.7}{14}{74.45\%}
\T[text=black]{390.7}{561.7}{14}{22.63\%}
\T[text=black]{410.7}{545}{6.6}{2.92\%}
\T[text=black]{576.7}{521}{14}{88.11\%}
\T[text=black]{622}{548.3}{6.6}{5.00\%}
\T[text=black]{613.3}{565}{6.6}{6.89\%}
\T[text=black]{355.7}{683.3}{14}{88.17\%}
\T[text=black]{407.3}{709}{6.6}{5.78\%}
\T[text=black]{404.3}{726.7}{6.6}{6.06\%}
\T[text=black]{572.3}{688.3}{14}{86.88\%}
\T[text=black]{621}{708.3}{6.6}{4.94\%}
\T[text=black]{612.7}{725.3}{6.6}{8.17\%}

% --- f, g: pileups
\begin{axis}[pile,box={7.5}{839.3}{110}{942},colormap name=cw,point meta min=-1.147,point meta max=1.176,axis line style={draw=frame}]
\addplot[surf,shader=interp,mesh/cols=15,point meta={ln(\thisrow{c}/10)}] table[x expr={mod(\coordindex,15)/14},y expr={1-floor(\coordindex/15)/14}] \tFa;
\end{axis}
\begin{axis}[pile,box={112.8}{839.3}{215.4}{942},colormap name=cw,point meta min=-1.147,point meta max=1.176,axis line style={draw=frame}]
\addplot[surf,shader=interp,mesh/cols=15,point meta={ln(\thisrow{c}/10)}] table[x expr={mod(\coordindex,15)/14},y expr={1-floor(\coordindex/15)/14}] \tFb;
\end{axis}
\begin{axis}[pile,box={333}{839.3}{436.7}{942},colormap name=cw,point meta min=-1.024,point meta max=1.067,axis line style={draw=black!85}]
\addplot[matrix plot*,mesh/cols=19,point meta={ln(\thisrow{c}/10)}] table[x expr={(mod(\coordindex,19)+.5)/19},y expr={1-(floor(\coordindex/19)+.5)/19}] \tGa;
\end{axis}
\begin{axis}[pile,box={439.4}{839.3}{543.4}{942},colormap name=cw,point meta min=-1.024,point meta max=1.067,axis line style={draw=black!85}]
\addplot[surf,shader=interp,mesh/cols=15,point meta={ln(\thisrow{c}/10)}] table[x expr={mod(\coordindex,15)/14},y expr={1-floor(\coordindex/15)/14}] \tGb;
\end{axis}
\begin{axis}[pile,box={546.4}{839.3}{650.4}{942},colormap name=cw,point meta min=-1.024,point meta max=1.067,axis line style={draw=black!85}]
\addplot[matrix plot*,mesh/cols=19,point meta={ln(\thisrow{c}/10)}] table[x expr={(mod(\coordindex,19)+.5)/19},y expr={1-(floor(\coordindex/19)+.5)/19}] \tGc;
\end{axis}
\begin{axis}[vbar,box={221}{839.3}{232}{942},ymin=-1.147,ymax=1.176,ytick={-.916,0,1.0986},yticklabels={0.4,1,3},
  tick label style={font=\fs{8},text=black},colormap name=cw,point meta min=-1.147,point meta max=1.176]
\vramp{-1.147}{1.176}
\end{axis}
\begin{axis}[vbar,box={656}{839.3}{667}{942},ymin=-1.024,ymax=1.067,ytick={-.916,0,.693},yticklabels={0.4,1,2},
  tick label style={font=\fs{8},text=black},colormap name=cw,point meta min=-1.024,point meta max=1.067]
\vramp{-1.024}{1.067}
\end{axis}
\T[text=black]{60}{831.7}{10.5}{E14-serum}
\T[text=black]{163.7}{831.7}{10.5}{E14-2i}
\T[text=black]{383.6}{831}{10.5}{Hi-C E3.5ICM}
\T[text=black]{491}{829.3}{10.5}{Hi-C E6.5Epi}
\T[text=black]{598}{831}{10.5}{Hi-C E7.5Ect}
\T[text=black]{23}{848}{8}{2.78}
\T[text=black]{128}{848}{8}{3.14}
\T[text=black]{346}{852.3}{8}{2.7}
\T[text=black]{455.7}{852.3}{8}{2.33}
\T[text=black]{563}{852.3}{8}{2.66}
\T[text=black]{111.5}{950}{7.5}{balanced}
\T[text=black]{492}{950}{7.5}{balanced}
\end{tikzpicture}
\end{document}
